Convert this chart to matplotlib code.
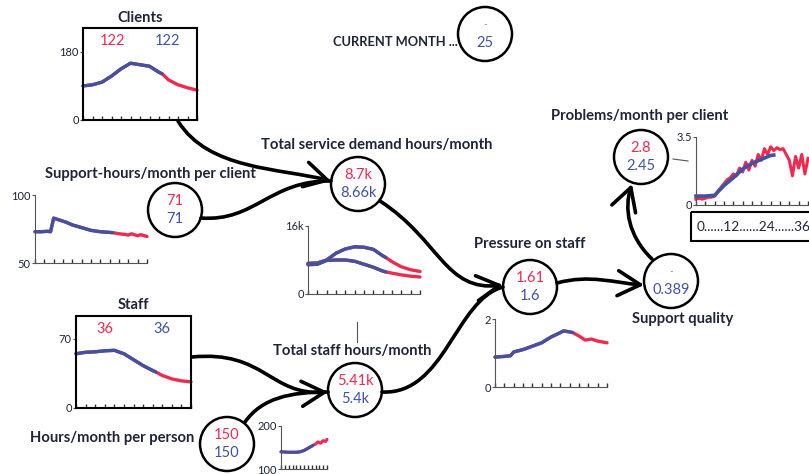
import matplotlib
matplotlib.use('Agg')
import matplotlib.pyplot as plt
from matplotlib.patches import Circle, Rectangle, FancyArrowPatch
from matplotlib.path import Path

plt.rcParams['font.family'] = ['Lato', 'DejaVu Sans']

W, H = 809, 474
RED = '#ee2a50'
BLUE = '#4052a3'
INK = '#1e2538'
NOW = 25

# ---- data ----
clients_m = [0, 3, 6, 9, 12, 15, 18, 21, 24, 25, 27, 30, 33, 36]
clients = [90, 93, 100, 116, 135, 150, 146, 142, 126, 122, 106, 93, 85, 79]

support_m = [0, 2, 4, 5, 6, 8, 10, 12, 15, 18, 21, 24, 25, 27, 29, 30, 31, 33, 34, 36]
support = [73, 73, 73.3, 73, 83, 81.5, 80, 78, 76, 74, 73, 72.5, 72.3, 71.5, 71, 70.5, 71.5, 70, 70.8, 69.5]

demand_m = [0, 3, 6, 9, 12, 15, 18, 21, 24, 25, 27, 30, 33, 36]
demand_a = [7.2, 7.3, 8.0, 9.6, 10.6, 11.1, 11.0, 10.5, 9.0, 8.6, 7.6, 6.4, 5.7, 5.3]
demand_b = [6.9, 7.0, 7.9, 8.0, 8.0, 7.7, 7.0, 6.3, 5.4, 5.2, 4.9, 4.5, 4.2, 4.0]

staff_m = [0, 3, 6, 9, 12, 15, 18, 21, 24, 25, 27, 30, 33, 36]
staff = [55, 56.5, 57, 58, 58.5, 55, 49, 43, 38, 36.5, 33, 29.5, 27.5, 26.5]

hours_m = [0, 6, 12, 15, 18, 21, 24, 25, 27, 29, 31, 33, 35, 36]
hours = [140, 139, 139, 140, 143, 148, 153, 155, 158, 163, 160, 166, 164, 169]

pressure_m = [0, 3, 5, 6, 9, 12, 15, 18, 21, 22, 24, 25, 27, 29, 31, 33, 36]
pressure = [0.88, 0.9, 0.92, 1.03, 1.1, 1.2, 1.3, 1.47, 1.6, 1.65, 1.62, 1.6, 1.5, 1.38, 1.41, 1.35, 1.3]

problems_m = list(range(37))
problems_sim = [0.3, 0.35, 0.3, 0.35, 0.4, 0.4, 0.45, 0.7, 0.9, 1.1, 1.3, 1.4, 1.6, 1.5, 1.9,
                1.7, 2.2, 1.8, 2.3, 2.0, 2.6, 2.3, 2.9, 2.6, 3.0, 2.8, 2.95, 2.85, 2.9, 2.6,
                2.3, 1.5, 2.5, 1.9, 2.6, 1.6, 2.4]
problems_hm = [0, 3, 6, 9, 12, 15, 18, 21, 24, 25]
problems_hist = [0.46, 0.46, 0.5, 1.0, 1.4, 1.85, 2.15, 2.35, 2.55, 2.57]

fig = plt.figure(figsize=(W / 100, H / 100), dpi=100)
ax = fig.add_axes([0, 0, 1, 1])
ax.set_xlim(0, W)
ax.set_ylim(H, 0)
ax.axis('off')


def mini(box, ylim, yticks, ylabels, frame=False):
    x0, y0, x1, y1 = box
    a = fig.add_axes([x0 / W, 1 - y1 / H, (x1 - x0) / W, (y1 - y0) / H])
    a.set_xlim(0, 36)
    a.set_ylim(*ylim)
    a.set_xticks(range(0, 37, 3))
    a.set_xticklabels([])
    a.set_yticks(yticks)
    a.set_yticklabels(ylabels)
    a.tick_params(axis='x', direction='in', length=3, width=1, colors='#333')
    a.tick_params(axis='y', direction='out', length=2, labelsize=8, pad=1,
                  colors='#555', labelcolor=INK)
    a.patch.set_alpha(0)
    for k, s in a.spines.items():
        if frame:
            s.set_linewidth(1.5)
            s.set_color('black')
        elif k in ('top', 'right'):
            s.set_visible(False)
        else:
            s.set_color('#555')
    return a


def series(a, m, v, lw=2.4):
    a.plot(m, v, color=RED, lw=lw, solid_capstyle='round', clip_on=False)
    k = sum(1 for x in m if x <= NOW)
    a.plot(m[:k], v[:k], color=BLUE, lw=lw, solid_capstyle='round', clip_on=False)


a = mini((83, 28, 197, 120), (0, 243), [0, 180], ['0', '180'], frame=True)
series(a, clients_m, clients)
a = mini((35, 195, 147, 263), (50, 100), [50, 100], ['50', '100'])
series(a, support_m, support)
a = mini((308, 226, 420, 294), (0, 16), [0, 16], ['0', '16k'])
series(a, demand_m, demand_a)
series(a, demand_m, demand_b)
a = mini((76, 316, 191, 408), (0, 93.3), [0, 70], ['0', '70'], frame=True)
series(a, staff_m, staff)
a = mini((281, 426, 327, 469), (100, 200), [100, 200], ['100', '200'])
series(a, hours_m, hours, lw=2.2)
a = mini((696, 137, 808, 205), (0, 3.5), [0, 3.5], ['0', '3.5'])
a.plot(problems_m, problems_sim, color=RED, lw=2.2, clip_on=False)
a.plot(problems_hm, problems_hist, color=BLUE, lw=2.6, clip_on=False)
a = mini((495, 319, 607, 387), (0, 2), [0, 2], ['0', '2'])
series(a, pressure_m, pressure)

# ---- nodes ----
nodes = [
    (485, 34, '-', '25'),
    (175, 210, '71', '71'),
    (358, 184, '8.7k', '8.66k'),
    (227, 444, '150', '150'),
    (355, 390, '5.41k', '5.4k'),
    (530, 287, '1.61', '1.6'),
    (671, 281, '-', '0.389'),
    (641, 157, '2.8', '2.45'),
]
for cx, cy, top, bot in nodes:
    ax.add_patch(Circle((cx, cy), 27, fill=False, lw=1.8, ec='black'))
    if top == '-':
        ax.text(cx, cy - 9, top, color='#888', fontsize=7, ha='center', va='center')
    else:
        ax.text(cx, cy - 9, top, color=RED, fontsize=10.5, ha='center', va='center')
    ax.text(cx, cy + 9, bot, color=BLUE, fontsize=10.5, ha='center', va='center')

labels = [
    (140, 18, 'Clients'),
    (150, 174, 'Support-hours/month per client'),
    (377, 145, 'Total service demand hours/month'),
    (133, 305, 'Staff'),
    (112, 438, 'Hours/month per person'),
    (352, 351, 'Total staff hours/month'),
    (530, 244, 'Pressure on staff'),
    (683, 319, 'Support quality'),
    (640, 116, 'Problems/month per client'),
]
for x, y, s in labels:
    ax.text(x, y, s, color=INK, fontsize=10.6, fontweight='bold', ha='center', va='center')
ax.text(395, 42, 'CURRENT MONTH ...', color=INK, fontsize=9.3, fontweight='bold',
        ha='center', va='center')

ax.text(113, 41, '122', color=RED, fontsize=10.5, ha='center', va='center')
ax.text(168, 41, '122', color=BLUE, fontsize=10.5, ha='center', va='center')
ax.text(105, 329, '36', color=RED, fontsize=10.5, ha='center', va='center')
ax.text(162, 329, '36', color=BLUE, fontsize=10.5, ha='center', va='center')

ax.add_patch(Rectangle((691, 212), 140, 29, fill=False, lw=1.5, ec='black'))
ax.text(697, 227, '0......12......24......36', color=INK, fontsize=9.8, ha='left', va='center')

ax.plot([673, 688], [159, 161], color='#555', lw=0.8)
ax.plot([357, 357], [322, 342], color='#555', lw=0.8)

# ---- arrows ----
C4 = [Path.MOVETO, Path.CURVE4, Path.CURVE4, Path.CURVE4]
links = [
    ([(178, 121), (208, 170), (280, 168), (331, 181)], True),
    ([(201, 218), (255, 222), (270, 180), (331, 181)], False),
    ([(380, 201), (440, 240), (445, 292), (503, 285)], True),
    ([(192, 357), (265, 350), (270, 396), (328, 392)], True),
    ([(245, 422), (262, 398), (290, 392), (328, 392)], False),
    ([(382, 392), (445, 395), (455, 300), (503, 287)], False),
    ([(557, 283), (590, 274), (615, 283), (644, 285)], True),
    ([(652, 259), (628, 236), (624, 208), (632, 184)], True),
]
for pts, head in links:
    style = '->,head_length=0.9,head_width=0.5' if head else '-'
    ax.add_patch(FancyArrowPatch(path=Path(pts, C4), arrowstyle=style,
                                 mutation_scale=18, lw=2.6, color='black'))

fig.savefig('out.png', dpi=100)
